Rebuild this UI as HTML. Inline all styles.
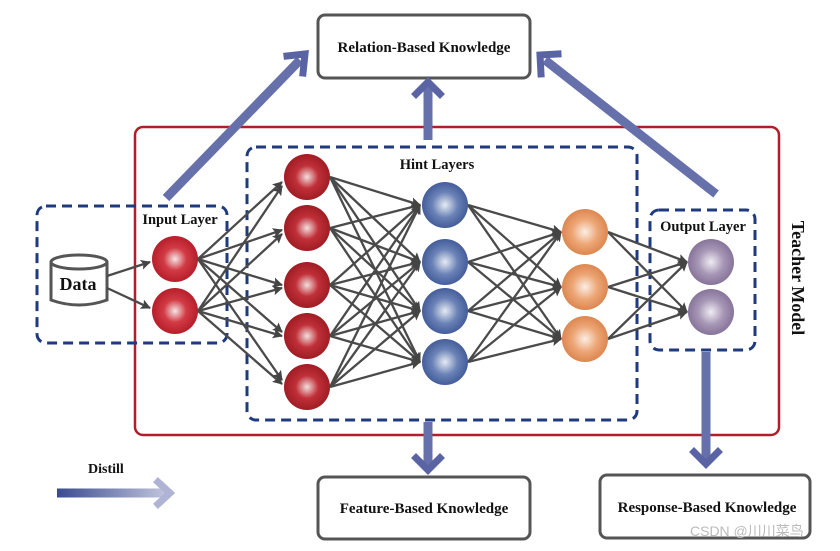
<!DOCTYPE html>
<html><head><style>body{margin:0;background:#fff}svg{display:block}text{font-family:"Liberation Serif",serif;font-weight:bold;fill:#111}</style></head>
<body>
<svg width="840" height="551" viewBox="0 0 840 551" xmlns="http://www.w3.org/2000/svg">
<defs>
<radialGradient id="gr" cx="0.5" cy="0.5" r="0.55"><stop offset="0" stop-color="#f6e6e6"/><stop offset="0.45" stop-color="#d23a44"/><stop offset="1" stop-color="#b01a25"/></radialGradient>
<radialGradient id="gr2" cx="0.5" cy="0.5" r="0.55"><stop offset="0" stop-color="#f2dede"/><stop offset="0.45" stop-color="#c03038"/><stop offset="1" stop-color="#9a1820"/></radialGradient>
<radialGradient id="gb" cx="0.5" cy="0.5" r="0.55"><stop offset="0" stop-color="#e6ebf4"/><stop offset="0.5" stop-color="#6a82b6"/><stop offset="1" stop-color="#3c5594"/></radialGradient>
<radialGradient id="go" cx="0.5" cy="0.5" r="0.55"><stop offset="0" stop-color="#fbeee4"/><stop offset="0.5" stop-color="#eda676"/><stop offset="1" stop-color="#d98048"/></radialGradient>
<radialGradient id="gp" cx="0.5" cy="0.5" r="0.55"><stop offset="0" stop-color="#f0ecf3"/><stop offset="0.5" stop-color="#a797b6"/><stop offset="1" stop-color="#7f6c94"/></radialGradient>
<linearGradient id="ab" gradientUnits="userSpaceOnUse" x1="57" y1="0" x2="172" y2="0"><stop offset="0" stop-color="#3a4a8e"/><stop offset="1" stop-color="#c8cbe2"/></linearGradient>
<marker id="m" markerWidth="10" markerHeight="10" refX="9" refY="5" orient="auto" markerUnits="userSpaceOnUse"><path d="M0,0 L10,5 L0,10 L2,5z" fill="#444"/></marker>
</defs>

<rect x="318" y="15" width="212" height="63" rx="7" fill="#fff" stroke="#555" stroke-width="3"/>
<text x="424" y="52" text-anchor="middle" font-size="15">Relation-Based Knowledge</text>
<rect x="318" y="477" width="212" height="62" rx="7" fill="#fff" stroke="#555" stroke-width="3"/>
<text x="424" y="513" text-anchor="middle" font-size="15">Feature-Based Knowledge</text>
<rect x="600" y="475" width="210" height="63" rx="7" fill="#fff" stroke="#555" stroke-width="3"/>
<text x="707" y="512" text-anchor="middle" font-size="15">Response-Based Knowledge</text>

<rect x="135" y="127" width="644" height="308" rx="8" fill="none" stroke="#b01e2a" stroke-width="2.5"/>
<text transform="translate(792,278) rotate(90)" text-anchor="middle" font-size="18">Teacher Model</text>

<g fill="none" stroke-width="9">
<line x1="166" y1="198" x2="300" y2="60" stroke="#6670aa"/>
<line x1="716" y1="194" x2="545" y2="60" stroke="#6670aa"/>
<line x1="428" y1="140" x2="428" y2="86" stroke="#6670aa"/>
<line x1="428" y1="422" x2="428" y2="468" stroke="#6670aa"/>
<line x1="706" y1="352" x2="706" y2="460" stroke="#6670aa"/>
<line x1="57" y1="493" x2="168" y2="493" stroke="url(#ab)"/>
</g>
<g fill="none" stroke="#5a64a4" stroke-width="7" stroke-linecap="square">
<polyline points="287,56 305,54 303,73"/>
<polyline points="541,74 540,55 558,54"/>
<polyline points="416,94 428,82 440,94"/>
<polyline points="416,458 428,470 440,458"/>
<polyline points="694,452 706,464 718,452"/>
<polyline points="158,482 170,493 158,504" stroke="#b0b4d4"/>
</g>
<text x="88" y="473" font-size="14">Distill</text>

<g fill="none" stroke="#1f3a7e" stroke-width="3" stroke-dasharray="10,6">
<rect x="37" y="206" width="190" height="137" rx="9"/>
<rect x="247" y="147" width="390" height="273" rx="9"/>
<rect x="650" y="210" width="105" height="140" rx="9"/>
</g>
<text x="180" y="224" text-anchor="middle" font-size="14.5">Input Layer</text>
<text x="437" y="169" text-anchor="middle" font-size="14.5">Hint Layers</text>
<text x="703" y="231" text-anchor="middle" font-size="14.5">Output Layer</text>

<path d="M51,262 L51,300 Q79,310 107,300 L107,262" fill="#fff" stroke="#555" stroke-width="3"/>
<ellipse cx="79" cy="262" rx="28" ry="7" fill="#fff" stroke="#555" stroke-width="3"/>
<text x="78" y="290" text-anchor="middle" font-size="18">Data</text>

<g stroke="#4a4a4a" stroke-width="2.3" marker-end="url(#m)">
<line x1="107" y1="276" x2="150" y2="262"/>
<line x1="107" y1="288" x2="150" y2="308"/>
<line x1="198" y1="259" x2="282" y2="182"/><line x1="198" y1="259" x2="282" y2="230"/><line x1="198" y1="259" x2="282" y2="285"/><line x1="198" y1="259" x2="282" y2="332"/><line x1="198" y1="259" x2="282" y2="380"/>
<line x1="198" y1="311" x2="282" y2="186"/><line x1="198" y1="311" x2="282" y2="234"/><line x1="198" y1="311" x2="282" y2="288"/><line x1="198" y1="311" x2="282" y2="336"/><line x1="198" y1="311" x2="282" y2="384"/>
<line x1="330" y1="177" x2="420" y2="205"/><line x1="330" y1="177" x2="420" y2="262"/><line x1="330" y1="177" x2="420" y2="311"/><line x1="330" y1="177" x2="420" y2="362"/>
<line x1="330" y1="228" x2="420" y2="205"/><line x1="330" y1="228" x2="420" y2="262"/><line x1="330" y1="228" x2="420" y2="311"/><line x1="330" y1="228" x2="420" y2="362"/>
<line x1="330" y1="285" x2="420" y2="205"/><line x1="330" y1="285" x2="420" y2="262"/><line x1="330" y1="285" x2="420" y2="311"/><line x1="330" y1="285" x2="420" y2="362"/>
<line x1="330" y1="336" x2="420" y2="205"/><line x1="330" y1="336" x2="420" y2="262"/><line x1="330" y1="336" x2="420" y2="311"/><line x1="330" y1="336" x2="420" y2="362"/>
<line x1="330" y1="387" x2="420" y2="205"/><line x1="330" y1="387" x2="420" y2="262"/><line x1="330" y1="387" x2="420" y2="311"/><line x1="330" y1="387" x2="420" y2="362"/>
<line x1="468" y1="205" x2="561" y2="232"/><line x1="468" y1="205" x2="561" y2="287"/><line x1="468" y1="205" x2="561" y2="339"/>
<line x1="468" y1="262" x2="561" y2="232"/><line x1="468" y1="262" x2="561" y2="287"/><line x1="468" y1="262" x2="561" y2="339"/>
<line x1="468" y1="311" x2="561" y2="232"/><line x1="468" y1="311" x2="561" y2="287"/><line x1="468" y1="311" x2="561" y2="339"/>
<line x1="468" y1="362" x2="561" y2="232"/><line x1="468" y1="362" x2="561" y2="287"/><line x1="468" y1="362" x2="561" y2="339"/>
<line x1="608" y1="232" x2="687" y2="262"/><line x1="608" y1="232" x2="687" y2="312"/>
<line x1="608" y1="287" x2="687" y2="262"/><line x1="608" y1="287" x2="687" y2="312"/>
<line x1="608" y1="339" x2="687" y2="262"/><line x1="608" y1="339" x2="687" y2="312"/>
</g>

<g fill="url(#gr)"><circle cx="175" cy="259" r="23"/><circle cx="175" cy="311" r="23"/></g>
<g fill="url(#gr2)"><circle cx="307" cy="177" r="23"/><circle cx="307" cy="228" r="23"/><circle cx="307" cy="285" r="23"/><circle cx="307" cy="336" r="23"/><circle cx="307" cy="387" r="23"/></g>
<g fill="url(#gb)"><circle cx="445" cy="205" r="23"/><circle cx="445" cy="262" r="23"/><circle cx="445" cy="311" r="23"/><circle cx="445" cy="362" r="23"/></g>
<g fill="url(#go)"><circle cx="585" cy="232" r="23"/><circle cx="585" cy="287" r="23"/><circle cx="585" cy="339" r="23"/></g>
<g fill="url(#gp)"><circle cx="711" cy="262" r="23"/><circle cx="711" cy="312" r="23"/></g>

<text x="690" y="536" font-size="14" style="font-family:'Liberation Sans','Noto Sans CJK SC',sans-serif;font-weight:normal;fill:#bbb">CSDN @川川菜鸟</text>
</svg>
</body></html>
